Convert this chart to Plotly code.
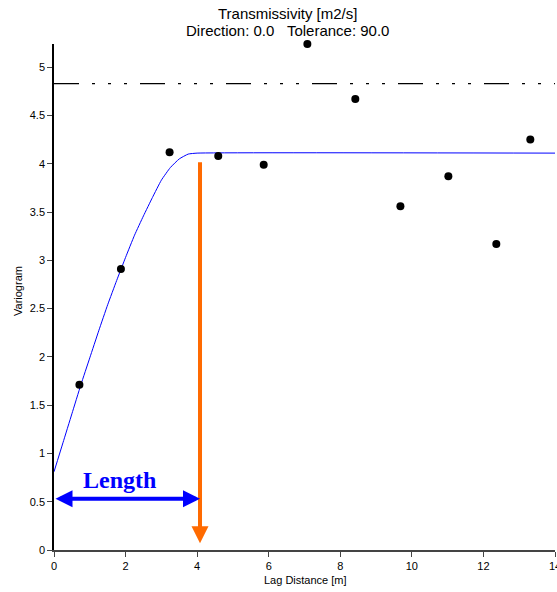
import plotly.graph_objects as go

# experimental variogram points
lag = [0.71, 1.87, 3.23, 4.59, 5.86, 7.08, 8.42, 9.68, 11.02, 12.36, 13.31]
gamma = [1.71, 2.91, 4.12, 4.08, 3.99, 5.24, 4.67, 3.56, 3.87, 3.17, 4.25]

# model curve
model_x = [0, 0.25, 0.5, 0.75, 1.0, 1.25, 1.5, 1.75, 2.0, 2.25, 2.5, 2.75,
           3.0, 3.25, 3.5, 3.75, 4.0, 14]
model_y = [0.81, 1.11, 1.41, 1.71, 1.99, 2.27, 2.54, 2.79, 3.03, 3.26, 3.46, 3.65,
           3.83, 3.96, 4.05, 4.10, 4.11, 4.11]

sill_value = 4.83
range_value = 4.08
length_arrow_y = 0.53
orange_top = 4.03
orange_tip = 0.07

x_ticks = [0, 2, 4, 6, 8, 10, 12, 14]
y_ticks = [0, 0.5, 1, 1.5, 2, 2.5, 3, 3.5, 4, 4.5, 5]
y_tick_text = ["0", "0.5", "1", "1.5", "2", "2.5", "3", "3.5", "4", "4.5", "5"]

font = "Liberation Sans, Arial, sans-serif"

fig = go.Figure()
fig.add_trace(go.Scatter(x=[0, 14], y=[sill_value, sill_value], mode="lines",
                         line=dict(color="black", width=1.2,
                                   dash="25px,13px,3px,13px,3px,13px,3px,13px"),
                         hoverinfo="skip", showlegend=False))
fig.add_trace(go.Scatter(x=model_x, y=model_y, mode="lines",
                         line=dict(color="#0000ff", width=1, shape="spline", smoothing=0.4),
                         showlegend=False))
fig.add_trace(go.Scatter(x=lag, y=gamma, mode="markers",
                         marker=dict(color="black", size=8), cliponaxis=False,
                         showlegend=False))

# orange arrow (down)
fig.add_annotation(x=range_value, y=orange_tip, ax=range_value, ay=orange_top,
                   xref="x", yref="y", axref="x", ayref="y", text="",
                   showarrow=True, arrowhead=2, arrowsize=0.85, arrowwidth=4,
                   arrowcolor="#ff6a00", standoff=0)
# blue double arrow
fig.add_annotation(x=range_value, y=length_arrow_y, ax=0, ay=length_arrow_y,
                   xref="x", yref="y", axref="x", ayref="y", text="",
                   showarrow=True, arrowhead=2, startarrowhead=2, arrowside="end+start",
                   arrowsize=0.85, startarrowsize=0.85, arrowwidth=4,
                   arrowcolor="#0000ff", standoff=0, startstandoff=0)
fig.add_annotation(x=1.82, y=0.73, xref="x", yref="y", text="<b>Length</b>",
                   showarrow=False,
                   font=dict(family="Liberation Serif, Times New Roman, serif", size=24, color="#0000ff"))

# titles
def paper_text(px, py, text, size, angle=0):
    fig.add_annotation(x=(px - 54) / 501, y=(550 - py) / 506, xref="paper", yref="paper",
                       xanchor="center", yanchor="middle", text=text, showarrow=False,
                       textangle=angle, font=dict(family=font, size=size, color="black"))

paper_text(287, 14, "Transmissivity [m2/s]", 15)
paper_text(287, 31, "Direction: 0.0&nbsp;&nbsp;&nbsp;Tolerance: 90.0", 15)
paper_text(305, 580, "Lag Distance [m]", 11)
paper_text(18, 291, "Variogram", 11, -90)

fig.update_layout(
    width=557, height=592,
    margin=dict(l=54, r=2, t=44, b=42, autoexpand=False),
    plot_bgcolor="white", paper_bgcolor="white",
    font=dict(family=font, size=11, color="black"),
    showlegend=False,
)
fig.update_xaxes(range=[0, 14], tickvals=x_ticks, showgrid=False, zeroline=False,
                 showline=True, linecolor="#444", linewidth=1.5,
                 ticks="outside", ticklen=5, tickcolor="#444",
                 ticklabeloverflow="allow", automargin=False,
                 tickfont=dict(size=11, color="black"))
fig.update_yaxes(range=[0, 5.24], tickvals=y_ticks, ticktext=y_tick_text,
                 showgrid=False, zeroline=False, automargin=False,
                 showline=True, linecolor="black", linewidth=1.5,
                 ticks="outside", ticklen=5, tickcolor="#444",
                 tickfont=dict(size=11, color="black"))

fig.write_html("out.html")
